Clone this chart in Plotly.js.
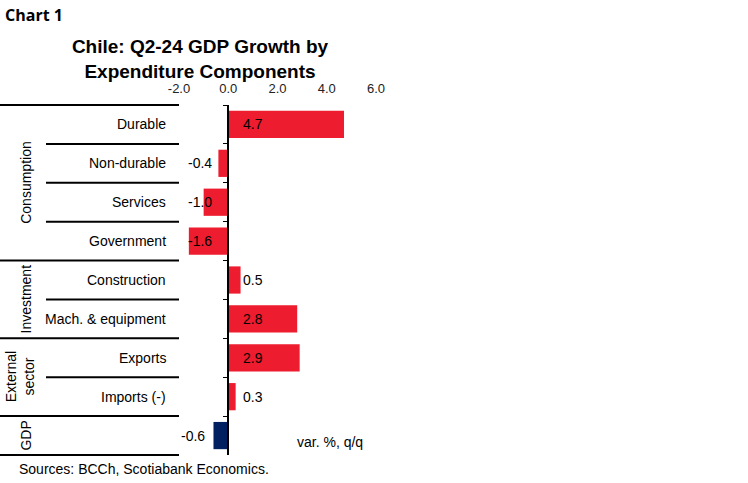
<!DOCTYPE html>
<html>
<head>
<meta charset="utf-8">
<script src="https://cdn.plot.ly/plotly-3.0.1.min.js"></script>
<style>
  html, body { margin: 0; padding: 0; background: #fff; }
  #chart { width: 748px; height: 483px; }
</style>
</head>
<body>
<div id="chart"></div>
<script>
  // data (var. %, q/q)
  const rows   = ['Durable', 'Non-durable', 'Services', 'Government', 'Construction',
                  'Mach. & equipment', 'Exports', 'Imports (-)', 'GDP'];
  const rowLabels = ['Durable', 'Non-durable', 'Services', 'Government', 'Construction',
                  'Mach. & equipment', 'Exports', 'Imports (-)', ''];
  const values = [4.7, -0.4, -1.0, -1.6, 0.5, 2.8, 2.9, 0.3, -0.6];
  const groups = ['Consumption', 'Investment', 'External<br>sector', 'GDP'];
  const groupSize = [4, 2, 2, 1];
  const xTicks = [-2, 0, 2, 4, 6];
  const xTickText = ['-2.0', '0.0', '2.0', '4.0', '6.0'];

  const RED = '#ED1C2E', NAVY = '#002060';
  const FONT = 'Liberation Sans, Arial, sans-serif';

  const W = 748, H = 483;
  const M = {l: 179, r: 372, t: 105, b: 28};
  const plotW = W - M.l - M.r, plotH = H - M.t - M.b;
  // pixel -> paper helpers
  const px = x => (x - M.l) / plotW;
  const py = y => (H - M.b - y) / plotH;
  // category coordinate -> paper y (axis is reversed, -0.5 at top)
  const catY = c => (rows.length - 0.5 - c) / rows.length;

  const colors = rows.map(r => r === 'GDP' ? NAVY : RED);

  const trace = {
    type: 'bar',
    orientation: 'h',
    y: rows,
    x: values,
    width: 0.7,
    marker: {color: colors},
    hoverinfo: 'x+y'
  };

  let annotations = [];
  let shapes = [];

  // value labels, anchored to zero
  rows.forEach((r, i) => {
    const v = values[i];
    let shift = v < 0 ? -14 : 13;
    if (r === 'GDP') shift = -21;
    annotations.push({
      xref: 'x', yref: 'y', x: 0, y: r,
      text: v.toFixed(1), showarrow: false,
      xanchor: v < 0 ? 'right' : 'left', yanchor: 'middle', xshift: shift,
      font: {family: FONT, size: 14, color: '#000'}
    });
  });

  // row labels on the left
  rowLabels.forEach((t, i) => {
    if (!t) return;
    annotations.push({
      xref: 'paper', yref: 'y', x: px(168), y: i,
      text: t, showarrow: false, xanchor: 'right', yanchor: 'middle',
      font: {family: FONT, size: 14, color: '#000'}
    });
  });

  // group labels + rule lines
  const rule = (x0, c) => ({type: 'line', xref: 'paper', yref: 'paper', x0: x0, x1: 0,
                            y0: catY(c), y1: catY(c), layer: 'above',
                            line: {color: '#000', width: 2}});
  let start = 0;
  shapes.push(rule(px(0), -0.5));
  groups.forEach((g, k) => {
    const n = groupSize[k];
    const mid = start + (n - 1) / 2;
    annotations.push({
      xref: 'paper', yref: 'y', x: px(g.indexOf('<br>') > 0 ? 20 : 26), y: mid,
      text: g, showarrow: false, textangle: -90,
      xanchor: 'center', yanchor: 'middle',
      font: {family: FONT, size: 14, color: '#000'}
    });
    for (let j = 1; j < n; j++) shapes.push(rule(px(46), start + j - 0.5));
    start += n;
    shapes.push(rule(px(0), start - 0.5));
  });

  annotations.push({
    xref: 'paper', yref: 'paper', x: px(295), y: py(442), xanchor: 'left', yanchor: 'middle',
    text: 'var. %, q/q', showarrow: false,
    font: {family: FONT, size: 14, color: '#000'}
  });
  annotations.push({
    xref: 'paper', yref: 'paper', x: px(17), y: py(469), xanchor: 'left', yanchor: 'middle',
    text: 'Sources: BCCh, Scotiabank Economics.', showarrow: false,
    font: {family: FONT, size: 14, color: '#000'}
  });
  annotations.push({
    xref: 'paper', yref: 'paper', x: px(3), y: py(15), xanchor: 'left', yanchor: 'middle',
    text: '<b>Chart 1</b>', showarrow: false,
    font: {family: 'Open Sans, sans-serif', size: 16, color: '#000'}
  });

  const xr = [-2, 6];
  const layout = {
    width: W, height: H,
    margin: M,
    paper_bgcolor: '#fff', plot_bgcolor: '#fff',
    showlegend: false,
    title: {
      text: '<b>Chile: Q2-24 GDP Growth by<br>Expenditure Components</b>',
      x: 200 / W, xanchor: 'center', xref: 'container',
      y: 1 - 53 / H, yanchor: 'top', yref: 'container',
      font: {family: FONT, size: 19, color: '#000'}
    },
    xaxis: {
      range: xr, side: 'top', tickvals: xTicks, ticktext: xTickText,
      showgrid: false, zeroline: false, showline: false, ticks: '',
      ticklabelstandoff: 8,
      tickfont: {family: FONT, size: 13, color: '#222'}, fixedrange: true
    },
    yaxis: {
      type: 'category', range: [rows.length - 0.5, -0.5],
      anchor: 'free', position: (0 - xr[0]) / (xr[1] - xr[0]),
      showline: true, linecolor: '#000', linewidth: 2,
      ticks: 'outside', tickson: 'boundaries', ticklen: 4, tickcolor: '#000',
      showticklabels: false, showgrid: false, zeroline: false, fixedrange: true
    },
    annotations: annotations,
    shapes: shapes
  };

  Plotly.newPlot('chart', [trace], layout, {displayModeBar: false, staticPlot: true});
</script>
</body>
</html>
